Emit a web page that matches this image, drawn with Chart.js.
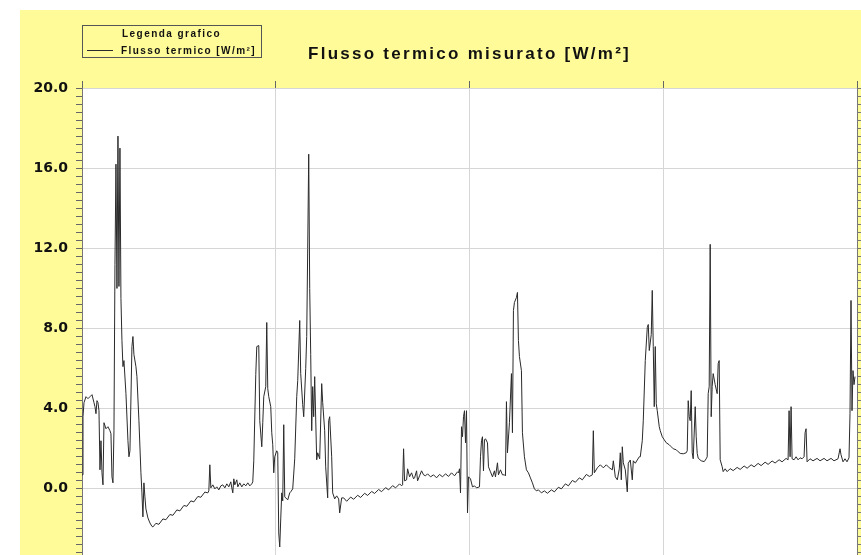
<!DOCTYPE html>
<html lang="it">
<head>
<meta charset="UTF-8">
<title>Flusso termico misurato</title>
<script src="https://cdn.jsdelivr.net/npm/chart.js"></script>
<style>
    html, body {
        margin: 0;
        padding: 0;
        background: #fff;
        overflow: hidden;
    }
    #sfondo {
        position: absolute;
        left: 20px;
        top: 10px;
        width: 841px;
        height: 545px;
        background: #fffb98;
    }
</style>
</head>
<body>
<div id="sfondo"><canvas id="grafico"></canvas></div>
<script>
    // numero del campione registrato (asse x)
    const campione = [
        0, 1, 2, 4, 6, 8, 10, 12, 13, 14,
        15, 16, 17, 18, 19, 20, 21, 22, 24, 26,
        28, 29, 30, 31, 32, 33, 34, 35, 36, 37,
        38, 39, 40, 41, 42, 44, 46, 47, 48, 50,
        51, 52, 54, 55, 57, 59, 60, 61, 62, 63,
        64, 66, 68, 70, 71, 74, 77, 81, 84, 88,
        91, 95, 98, 102, 105, 109, 112, 116, 119, 123,
        126, 127, 128, 129, 131, 133, 135, 137, 139, 141,
        143, 145, 147, 149, 150, 151, 152, 153, 155, 156,
        158, 160, 162, 164, 166, 168, 170, 171, 172, 174,
        175, 177, 178, 180, 181, 182, 184, 185, 186, 187,
        189, 190, 191, 192, 193, 195, 196, 197, 198, 199,
        200, 201, 202, 203, 206, 208, 209, 211, 213, 215,
        216, 218, 219, 221, 222, 224, 225, 226, 227, 228,
        229, 230, 231, 232, 233, 235, 236, 238, 240, 241,
        243, 244, 246, 247, 248, 250, 251, 253, 255, 257,
        258, 260, 262, 265, 269, 272, 276, 279, 283, 286,
        290, 293, 297, 300, 304, 307, 311, 314, 318, 320,
        321, 322, 323, 325, 326, 328, 330, 332, 333, 335,
        336, 338, 340, 342, 344, 346, 349, 352, 355, 358,
        361, 364, 367, 370, 373, 376, 377, 378, 379, 380,
        381, 382, 383, 384, 385, 386, 387, 389, 391, 393,
        395, 398, 399, 400, 401, 402, 403, 404, 406, 407,
        409, 411, 413, 414, 416, 417, 419, 421, 423, 424,
        425, 426, 428, 430, 431, 432, 433, 435, 436, 437,
        438, 440, 441, 443, 445, 447, 449, 451, 453, 455,
        457, 460, 463, 466, 470, 473, 477, 480, 484, 487,
        491, 494, 498, 501, 505, 508, 511, 512, 513, 516,
        519, 522, 525, 528, 531, 532, 534, 536, 538, 539,
        540, 541, 542, 544, 546, 547, 549, 551, 552, 554,
        556, 558, 559, 561, 562, 564, 566, 567, 568, 570,
        571, 572, 573, 574, 575, 576, 578, 579, 581, 583,
        585, 588, 590, 592, 595, 597, 599, 602, 605, 606,
        607, 608, 609, 610, 611, 612, 614, 615, 616, 617,
        620, 623, 625, 626, 627, 628, 629, 630, 631, 632,
        634, 636, 637, 638, 639, 641, 642, 644, 646, 649,
        652, 656, 659, 663, 666, 670, 673, 677, 680, 684,
        687, 691, 694, 698, 701, 705, 707, 708, 709, 710,
        711, 713, 715, 717, 719, 721, 723, 724, 725, 726,
        729, 732, 736, 739, 743, 746, 750, 753, 757, 759,
        760, 762, 764, 766, 768, 769, 770, 771, 772, 773,
        774
    ];

    // flusso termico misurato [W/m2]
    const flusso = [
        0.7, 3.6, 4.3, 4.6, 4.5, 4.6, 4.7, 4.3, 4.1, 3.75,
        4.4, 4.3, 3.9, 0.95, 2.4, 0.8, 0.2, 3.3, 3.0, 3.1,
        2.9, 2.75, 0.6, 0.3, 2.9, 11.2, 16.2, 10.0, 17.6, 10.1,
        17.0, 9.5, 7.4, 6.1, 6.4, 4.75, 2.4, 1.6, 1.9, 7.1,
        7.6, 6.7, 6.1, 5.6, 3.4, 0.8, -0.2, -1.4, 0.3, -0.4,
        -1.0, -1.45, -1.7, -1.87, -1.9, -1.72, -1.77, -1.5, -1.54, -1.28,
        -1.32, -1.05, -1.1, -0.83, -0.87, -0.6, -0.65, -0.38, -0.42, -0.16,
        -0.2, -0.1, 1.2, 0.05, 0.2, 0.0, 0.1, -0.05, 0.15, 0.2,
        0.05, 0.25, 0.1, 0.35, 0.05, -0.2, 0.5, 0.2, 0.45, 0.1,
        0.3, 0.1, 0.25, 0.15, 0.3, 0.15, 0.25, 0.35, 1.4, 5.7,
        7.1, 7.15, 3.4, 2.1, 3.3, 4.6, 5.1, 8.3, 5.0, 4.6,
        4.1, 2.8, 2.2, 0.8, 1.6, 1.9, 1.8, -2.2, -2.9, -1.5,
        -0.2, -0.6, 3.2, -0.4, -0.55, -0.2, -0.15, 0.0, 1.5, 4.6,
        5.4, 8.4, 5.75, 4.2, 3.6, 6.0, 7.6, 12.0, 16.7, 10.0,
        6.7, 2.9, 5.1, 3.6, 5.6, 1.45, 1.8, 1.5, 5.25, 4.3,
        2.9, 1.1, -0.45, 3.4, 3.6, 1.6, -0.2, -0.5, -0.35, -0.5,
        -1.2, -0.45, -0.45, -0.62, -0.41, -0.52, -0.32, -0.43, -0.22, -0.33,
        -0.13, -0.23, -0.03, -0.14, 0.06, -0.05, 0.16, 0.05, 0.25, 0.15,
        0.2, 2.0, 0.4, 0.45, 1.0, 0.6, 0.8, 0.5, 0.55, 0.9,
        0.4, 0.65, 0.9, 0.7, 0.65, 0.75, 0.6, 0.7, 0.55, 0.72,
        0.6, 0.75, 0.62, 0.8, 0.65, 0.85, 0.8, 1.0, -0.2, 3.1,
        2.6, 3.6, 3.9, 2.3, 3.9, -1.2, 0.6, 0.5, 0.1, 0.15,
        0.05, 0.1, 1.6, 2.4, 2.6, 0.9, 2.45, 2.5, 2.3, 1.1,
        0.85, 0.6, 0.9, 0.6, 1.3, 0.7, 0.95, 0.7, 0.7, 0.65,
        4.35, 1.8, 3.3, 5.75, 2.8, 8.9, 9.3, 9.55, 9.8, 7.4,
        6.6, 5.9, 2.8, 1.6, 0.95, 0.8, 0.55, 0.3, 0.0, -0.1,
        -0.05, -0.2, -0.1, -0.22, -0.05, -0.15, 0.08, 0.0, 0.25, 0.15,
        0.42, 0.33, 0.55, 0.45, 0.72, 0.62, 0.7, 2.9, 0.8, 1.05,
        1.2, 1.05, 1.2, 1.05, 0.95, 1.4, 0.6, 0.45, 1.0, 1.8,
        0.45, 2.1, 1.3, 0.95, -0.15, 1.28, 1.44, 0.45, 1.4, 1.28,
        1.44, 1.6, 1.6, 2.4, 3.4, 6.4, 8.05, 8.2, 6.9, 7.7,
        9.9, 7.1, 4.1, 7.1, 4.25, 3.9, 3.1, 2.9, 2.6, 2.45,
        2.3, 2.2, 2.1, 2.0, 1.95, 1.85, 1.77, 1.75, 1.8, 1.9,
        4.4, 3.6, 3.4, 4.9, 1.8, 1.5, 4.1, 2.6, 1.77, 1.53,
        1.4, 1.36, 1.5, 1.6, 4.75, 5.1, 12.2, 3.6, 5.1, 5.75,
        5.2, 4.75, 6.25, 6.4, 1.45, 1.1, 0.86, 1.0, 0.86, 1.01,
        0.91, 1.07, 0.97, 1.14, 1.03, 1.2, 1.1, 1.27, 1.16, 1.33,
        1.22, 1.39, 1.29, 1.45, 1.35, 1.52, 1.45, 3.9, 1.6, 4.1,
        1.5, 1.45, 1.6, 1.45, 1.55, 1.5, 1.6, 2.8, 3.0, 1.35,
        1.5, 1.4, 1.52, 1.4, 1.52, 1.4, 1.52, 1.4, 1.5, 2.0,
        1.7, 1.35, 1.5, 1.35, 1.55, 3.75, 9.4, 3.9, 5.9, 5.2,
        5.6
    ];

    // assi
    const yMin = -3.3, yMax = 20;
    const yPrincipali = [0, 4, 8, 12, 16, 20];   // tacche con etichetta
    const yPassoSecondario = 0.4;                 // tacche minori
    const xMax = 776, xPasso = 194;

    const titolo = 'Flusso termico misurato [W/m²]';
    const titoloLegenda = 'Legenda grafico';
    const etichettaSerie = 'Flusso termico [W/m²]';

    // elenco tacche asse y (principali + secondarie)
    const yTacche = [];
    for (let k = Math.round(yMax / yPassoSecondario); k * yPassoSecondario >= yMin; k--) {
        yTacche.push(Math.round(k * yPassoSecondario * 10) / 10);
    }
    const principale = v => yPrincipali.some(p => Math.abs(p - v) < 1e-6);

    // testo con spaziatura allargata fino alla larghezza voluta
    function testoLargo(ctx, testo, x, y, larghezza) {
        ctx.letterSpacing = '0px';
        const w0 = ctx.measureText(testo).width;
        const n = [...testo].length;
        ctx.letterSpacing = ((larghezza - w0) / n) + 'px';
        ctx.textAlign = 'left';
        ctx.fillText(testo, x, y);
        ctx.letterSpacing = '0px';
    }

    // niente margine extra sopra/sotto per le etichette dell'asse y
    function senzaMargini(s) {
        s.paddingTop = 0;
        s.paddingBottom = 0;
    }

    const sfondoBianco = {
        id: 'sfondoBianco',
        beforeDraw(chart) {
            const { ctx, chartArea: a } = chart;
            ctx.save();
            ctx.fillStyle = '#fff';
            ctx.fillRect(a.left, a.top, a.right - a.left, a.bottom - a.top);
            ctx.restore();
        }
    };

    // legenda nel riquadro e titolo
    const intestazione = {
        id: 'intestazione',
        afterDraw(chart) {
            const { ctx, chartArea: a } = chart;
            const ds = chart.data.datasets[0];
            ctx.save();
            ctx.fillStyle = '#111';
            ctx.textBaseline = 'alphabetic';

            // riquadro legenda
            const lx = a.left, ly = 15, lw = 179, lh = 32;
            ctx.strokeStyle = '#555';
            ctx.lineWidth = 1;
            ctx.strokeRect(lx + 0.5, ly + 0.5, lw, lh);
            ctx.font = 'bold 10px "Liberation Sans", Arial, sans-serif';
            testoLargo(ctx, titoloLegenda, lx + 40, ly + 12, 99);
            ctx.strokeStyle = ds.borderColor;
            ctx.beginPath();
            ctx.moveTo(lx + 5, ly + 25.5);
            ctx.lineTo(lx + 31, ly + 25.5);
            ctx.stroke();
            testoLargo(ctx, ds.label, lx + 39, ly + 29, 135);

            // titolo
            ctx.font = 'bold 17px "Liberation Sans", Arial, sans-serif';
            testoLargo(ctx, titolo, 288, 49, 323);
            ctx.restore();
        }
    };

    new Chart(document.getElementById('grafico'), {
        type: 'line',
        data: {
            datasets: [{
                label: etichettaSerie,
                data: campione.map((c, i) => ({ x: c, y: flusso[i] })),
                borderColor: '#2a2a2a',
                borderWidth: 1,
                pointRadius: 0,
                tension: 0,
                fill: false
            }]
        },
        options: {
            responsive: true,
            maintainAspectRatio: false,
            animation: false,
            devicePixelRatio: 1,
            layout: { padding: { top: 71, left: 0, right: 0, bottom: 0 } },
            plugins: {
                legend: { display: false },
                title: { display: false },
                tooltip: { enabled: false }
            },
            scales: {
                x: {
                    type: 'linear',
                    position: 'top',
                    min: 0,
                    max: xMax,
                    ticks: { display: false, stepSize: xPasso },
                    grid: { color: '#d6d6d6', tickColor: '#666', tickLength: 7 },
                    border: { color: '#d6d6d6' }
                },
                y: {
                    type: 'linear',
                    position: 'left',
                    min: yMin,
                    max: yMax,
                    afterBuildTicks: s => { s.ticks = yTacche.map(v => ({ value: v })); },
                    afterFit: s => { s.width = 62; senzaMargini(s); },
                    ticks: {
                        autoSkip: false,
                        padding: 8,
                        color: '#111',
                        font: { family: 'DejaVu Sans', size: 14, weight: 'bold' },
                        callback: v => principale(v) ? v.toFixed(1) : ''
                    },
                    grid: {
                        color: c => principale(c.tick.value) ? '#d6d6d6' : 'rgba(0,0,0,0)',
                        tickColor: '#666',
                        tickLength: 6
                    },
                    border: { color: '#777' }
                },
                y2: {
                    type: 'linear',
                    position: 'right',
                    min: yMin,
                    max: yMax,
                    afterBuildTicks: s => { s.ticks = yTacche.map(v => ({ value: v })); },
                    afterFit: s => { s.width = 4; senzaMargini(s); },
                    ticks: { display: false },
                    grid: { drawOnChartArea: false, tickColor: '#777', tickLength: 6 },
                    border: { color: '#777' }
                }
            }
        },
        plugins: [sfondoBianco, intestazione]
    });
</script>
</body>
</html>
